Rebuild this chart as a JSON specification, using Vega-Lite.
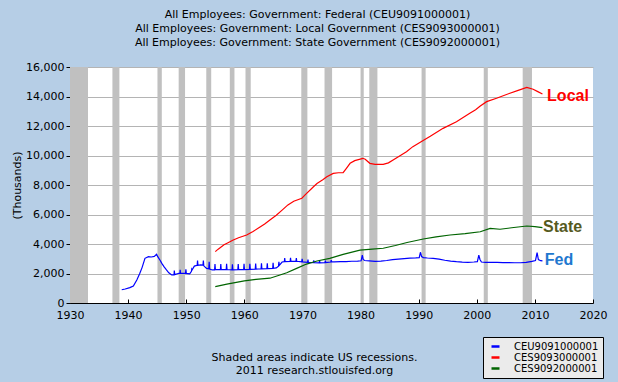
{
  "$schema": "https://vega.github.io/schema/vega-lite/v6.json",
  "width": 523,
  "height": 236,
  "autosize": {"type": "none"},
  "padding": {"left": 70, "top": 67, "right": 25, "bottom": 79},
  "background": "#B6CEE6",
  "title": {
    "text": ["All Employees: Government: Federal (CEU9091000001)", "All Employees: Government: Local Government (CES9093000001)", "All Employees: Government: State Government (CES9092000001)"],
    "font": "DejaVu Sans", "fontSize": 11, "fontWeight": "normal", "color": "#000000",
    "anchor": "middle", "offset": 13, "lineHeight": 14, "dx": -14
  },
  "config": {
    "view": {"stroke": null, "fill": "#FFFFFF"},
    "axis": {
      "zindex": 1, "domainColor": "#000000", "tickColor": "#000000",
      "labelFont": "DejaVu Sans", "labelFontSize": 11, "labelColor": "#000000",
      "labelFlush": false, "labelOverlap": false,
      "titleFont": "DejaVu Sans", "titleFontSize": 11, "titleFontWeight": "normal", "titleColor": "#000000"
    },
    "axisX": {"grid": false, "tickSize": -4, "labelPadding": 10, "titleX": 244, "titleY": 48, "titleBaseline": "top", "titleAlign": "center", "titleLineHeight": 13},
    "axisY": {"grid": true, "gridColor": "#B4B4B4", "tickSize": 4, "labelPadding": 2, "titleX": -53, "titleY": 118, "titleAngle": -90, "titleAlign": "center", "titleBaseline": "middle"},
    "legend": {
      "orient": "none", "legendX": 413, "legendY": 270, "fillColor": "#EBEBEB", "strokeColor": "#000000",
      "padding": 4, "symbolType": "stroke", "symbolStrokeWidth": 2.5, "symbolSize": 64,
      "labelFont": "DejaVu Sans", "labelFontSize": 10, "labelColor": "#000000", "rowPadding": 0,
      "labelOffset": 13, "symbolOffset": 3, "labelBaseline": "middle"
    }
  },
  "datasets": {
    "recessions": [
      {"x": 1930, "x2": 1933.1}, {"x": 1937.3, "x2": 1938.5}, {"x": 1945.05, "x2": 1945.8},
      {"x": 1948.7, "x2": 1949.8}, {"x": 1953.45, "x2": 1954.3}, {"x": 1957.5, "x2": 1958.3},
      {"x": 1960.2, "x2": 1961.1}, {"x": 1969.8, "x2": 1970.85}, {"x": 1973.8, "x2": 1975.1},
      {"x": 1980.0, "x2": 1980.55}, {"x": 1981.5, "x2": 1982.9}, {"x": 1990.5, "x2": 1991.2},
      {"x": 2001.2, "x2": 2001.9}, {"x": 2007.9, "x2": 2009.5}
    ],
    "series": [
      {"series": "CEU9091000001", "x": 1938.9, "y": 900}, {"series": "CEU9091000001", "x": 1939.5, "y": 950},
      {"series": "CEU9091000001", "x": 1940.3, "y": 1040}, {"series": "CEU9091000001", "x": 1940.9, "y": 1150},
      {"series": "CEU9091000001", "x": 1941.5, "y": 1560}, {"series": "CEU9091000001", "x": 1942.0, "y": 2000},
      {"series": "CEU9091000001", "x": 1942.4, "y": 2400}, {"series": "CEU9091000001", "x": 1942.9, "y": 3030},
      {"series": "CEU9091000001", "x": 1943.5, "y": 3140}, {"series": "CEU9091000001", "x": 1944.0, "y": 3120},
      {"series": "CEU9091000001", "x": 1944.5, "y": 3160}, {"series": "CEU9091000001", "x": 1944.9, "y": 3300},
      {"series": "CEU9091000001", "x": 1945.1, "y": 3140}, {"series": "CEU9091000001", "x": 1945.5, "y": 2900},
      {"series": "CEU9091000001", "x": 1945.8, "y": 2690}, {"series": "CEU9091000001", "x": 1946.2, "y": 2450},
      {"series": "CEU9091000001", "x": 1946.6, "y": 2240}, {"series": "CEU9091000001", "x": 1947.0, "y": 2050},
      {"series": "CEU9091000001", "x": 1947.5, "y": 1900}, {"series": "CEU9091000001", "x": 1947.9, "y": 1920},
      {"series": "CEU9091000001", "x": 1947.95, "y": 2200}, {"series": "CEU9091000001", "x": 1948.02, "y": 1920},
      {"series": "CEU9091000001", "x": 1948.6, "y": 2000}, {"series": "CEU9091000001", "x": 1948.92, "y": 2020},
      {"series": "CEU9091000001", "x": 1948.96, "y": 2250}, {"series": "CEU9091000001", "x": 1949.02, "y": 2010},
      {"series": "CEU9091000001", "x": 1949.5, "y": 2010}, {"series": "CEU9091000001", "x": 1949.88, "y": 2020},
      {"series": "CEU9091000001", "x": 1949.94, "y": 2290}, {"series": "CEU9091000001", "x": 1950.02, "y": 2010},
      {"series": "CEU9091000001", "x": 1950.6, "y": 1980}, {"series": "CEU9091000001", "x": 1950.9, "y": 2150},
      {"series": "CEU9091000001", "x": 1950.95, "y": 2300}, {"series": "CEU9091000001", "x": 1951.02, "y": 2250},
      {"series": "CEU9091000001", "x": 1951.4, "y": 2500}, {"series": "CEU9091000001", "x": 1951.88, "y": 2550},
      {"series": "CEU9091000001", "x": 1951.95, "y": 2870}, {"series": "CEU9091000001", "x": 1952.02, "y": 2560},
      {"series": "CEU9091000001", "x": 1952.5, "y": 2580}, {"series": "CEU9091000001", "x": 1952.88, "y": 2570},
      {"series": "CEU9091000001", "x": 1952.95, "y": 2870}, {"series": "CEU9091000001", "x": 1953.02, "y": 2520},
      {"series": "CEU9091000001", "x": 1953.5, "y": 2350}, {"series": "CEU9091000001", "x": 1953.88, "y": 2320},
      {"series": "CEU9091000001", "x": 1953.95, "y": 2800}, {"series": "CEU9091000001", "x": 1954.02, "y": 2300},
      {"series": "CEU9091000001", "x": 1954.5, "y": 2240}, {"series": "CEU9091000001", "x": 1954.88, "y": 2240},
      {"series": "CEU9091000001", "x": 1954.95, "y": 2640}, {"series": "CEU9091000001", "x": 1955.02, "y": 2260},
      {"series": "CEU9091000001", "x": 1955.88, "y": 2260}, {"series": "CEU9091000001", "x": 1955.95, "y": 2640},
      {"series": "CEU9091000001", "x": 1956.02, "y": 2260}, {"series": "CEU9091000001", "x": 1956.88, "y": 2270},
      {"series": "CEU9091000001", "x": 1956.95, "y": 2650}, {"series": "CEU9091000001", "x": 1957.02, "y": 2270},
      {"series": "CEU9091000001", "x": 1957.88, "y": 2250}, {"series": "CEU9091000001", "x": 1957.95, "y": 2620},
      {"series": "CEU9091000001", "x": 1958.02, "y": 2250}, {"series": "CEU9091000001", "x": 1958.88, "y": 2260},
      {"series": "CEU9091000001", "x": 1958.95, "y": 2640}, {"series": "CEU9091000001", "x": 1959.02, "y": 2260},
      {"series": "CEU9091000001", "x": 1959.88, "y": 2270}, {"series": "CEU9091000001", "x": 1959.95, "y": 2660},
      {"series": "CEU9091000001", "x": 1960.02, "y": 2270}, {"series": "CEU9091000001", "x": 1960.88, "y": 2280},
      {"series": "CEU9091000001", "x": 1960.95, "y": 2660}, {"series": "CEU9091000001", "x": 1961.02, "y": 2280},
      {"series": "CEU9091000001", "x": 1961.88, "y": 2300}, {"series": "CEU9091000001", "x": 1961.95, "y": 2680},
      {"series": "CEU9091000001", "x": 1962.02, "y": 2300}, {"series": "CEU9091000001", "x": 1962.88, "y": 2320},
      {"series": "CEU9091000001", "x": 1962.95, "y": 2700}, {"series": "CEU9091000001", "x": 1963.02, "y": 2320},
      {"series": "CEU9091000001", "x": 1963.88, "y": 2330}, {"series": "CEU9091000001", "x": 1963.95, "y": 2700},
      {"series": "CEU9091000001", "x": 1964.02, "y": 2330}, {"series": "CEU9091000001", "x": 1964.88, "y": 2350},
      {"series": "CEU9091000001", "x": 1964.95, "y": 2720}, {"series": "CEU9091000001", "x": 1965.02, "y": 2350},
      {"series": "CEU9091000001", "x": 1965.5, "y": 2380}, {"series": "CEU9091000001", "x": 1965.88, "y": 2500},
      {"series": "CEU9091000001", "x": 1965.95, "y": 2800}, {"series": "CEU9091000001", "x": 1966.02, "y": 2550},
      {"series": "CEU9091000001", "x": 1966.5, "y": 2780}, {"series": "CEU9091000001", "x": 1966.88, "y": 2800},
      {"series": "CEU9091000001", "x": 1966.95, "y": 3050}, {"series": "CEU9091000001", "x": 1967.02, "y": 2800},
      {"series": "CEU9091000001", "x": 1967.88, "y": 2820}, {"series": "CEU9091000001", "x": 1967.95, "y": 3060},
      {"series": "CEU9091000001", "x": 1968.02, "y": 2820}, {"series": "CEU9091000001", "x": 1968.88, "y": 2830},
      {"series": "CEU9091000001", "x": 1968.95, "y": 3050}, {"series": "CEU9091000001", "x": 1969.02, "y": 2830},
      {"series": "CEU9091000001", "x": 1969.88, "y": 2790}, {"series": "CEU9091000001", "x": 1969.95, "y": 3000},
      {"series": "CEU9091000001", "x": 1970.02, "y": 2790}, {"series": "CEU9091000001", "x": 1970.88, "y": 2760},
      {"series": "CEU9091000001", "x": 1970.95, "y": 2950}, {"series": "CEU9091000001", "x": 1971.02, "y": 2750},
      {"series": "CEU9091000001", "x": 1971.88, "y": 2730}, {"series": "CEU9091000001", "x": 1971.95, "y": 2900},
      {"series": "CEU9091000001", "x": 1972.02, "y": 2730}, {"series": "CEU9091000001", "x": 1972.88, "y": 2720},
      {"series": "CEU9091000001", "x": 1972.95, "y": 2880}, {"series": "CEU9091000001", "x": 1973.02, "y": 2720},
      {"series": "CEU9091000001", "x": 1973.88, "y": 2740}, {"series": "CEU9091000001", "x": 1973.95, "y": 2880},
      {"series": "CEU9091000001", "x": 1974.02, "y": 2740}, {"series": "CEU9091000001", "x": 1974.88, "y": 2780},
      {"series": "CEU9091000001", "x": 1974.95, "y": 2900}, {"series": "CEU9091000001", "x": 1975.02, "y": 2790},
      {"series": "CEU9091000001", "x": 1975.5, "y": 2790}, {"series": "CEU9091000001", "x": 1976.5, "y": 2800},
      {"series": "CEU9091000001", "x": 1977.5, "y": 2800}, {"series": "CEU9091000001", "x": 1978.5, "y": 2830},
      {"series": "CEU9091000001", "x": 1979.5, "y": 2840}, {"series": "CEU9091000001", "x": 1980.1, "y": 2860},
      {"series": "CEU9091000001", "x": 1980.3, "y": 3250}, {"series": "CEU9091000001", "x": 1980.45, "y": 2950},
      {"series": "CEU9091000001", "x": 1980.7, "y": 2880}, {"series": "CEU9091000001", "x": 1981.5, "y": 2850},
      {"series": "CEU9091000001", "x": 1982.5, "y": 2820}, {"series": "CEU9091000001", "x": 1983.5, "y": 2840},
      {"series": "CEU9091000001", "x": 1984.5, "y": 2880}, {"series": "CEU9091000001", "x": 1985.5, "y": 2940},
      {"series": "CEU9091000001", "x": 1986.5, "y": 2980}, {"series": "CEU9091000001", "x": 1987.5, "y": 3010},
      {"series": "CEU9091000001", "x": 1988.5, "y": 3040}, {"series": "CEU9091000001", "x": 1989.5, "y": 3060},
      {"series": "CEU9091000001", "x": 1990.1, "y": 3080}, {"series": "CEU9091000001", "x": 1990.3, "y": 3440},
      {"series": "CEU9091000001", "x": 1990.5, "y": 3150}, {"series": "CEU9091000001", "x": 1990.8, "y": 3080},
      {"series": "CEU9091000001", "x": 1991.5, "y": 3050}, {"series": "CEU9091000001", "x": 1992.5, "y": 3030},
      {"series": "CEU9091000001", "x": 1993.5, "y": 2980}, {"series": "CEU9091000001", "x": 1994.5, "y": 2900},
      {"series": "CEU9091000001", "x": 1995.5, "y": 2840}, {"series": "CEU9091000001", "x": 1996.5, "y": 2800},
      {"series": "CEU9091000001", "x": 1997.5, "y": 2770}, {"series": "CEU9091000001", "x": 1998.5, "y": 2760},
      {"series": "CEU9091000001", "x": 1999.5, "y": 2780}, {"series": "CEU9091000001", "x": 2000.1, "y": 2800},
      {"series": "CEU9091000001", "x": 2000.35, "y": 3250}, {"series": "CEU9091000001", "x": 2000.55, "y": 2950},
      {"series": "CEU9091000001", "x": 2000.8, "y": 2780}, {"series": "CEU9091000001", "x": 2001.5, "y": 2760},
      {"series": "CEU9091000001", "x": 2002.5, "y": 2750}, {"series": "CEU9091000001", "x": 2003.5, "y": 2750},
      {"series": "CEU9091000001", "x": 2004.5, "y": 2740}, {"series": "CEU9091000001", "x": 2005.5, "y": 2740},
      {"series": "CEU9091000001", "x": 2006.5, "y": 2730}, {"series": "CEU9091000001", "x": 2007.5, "y": 2730},
      {"series": "CEU9091000001", "x": 2008.5, "y": 2760}, {"series": "CEU9091000001", "x": 2009.5, "y": 2820},
      {"series": "CEU9091000001", "x": 2010.1, "y": 2880}, {"series": "CEU9091000001", "x": 2010.38, "y": 3413},
      {"series": "CEU9091000001", "x": 2010.6, "y": 2950}, {"series": "CEU9091000001", "x": 2011.0, "y": 2870},
      {"series": "CEU9091000001", "x": 2011.3, "y": 2850},

      {"series": "CES9093000001", "x": 1955.0, "y": 3480}, {"series": "CES9093000001", "x": 1955.5, "y": 3650},
      {"series": "CES9093000001", "x": 1956.5, "y": 3950}, {"series": "CES9093000001", "x": 1957.2, "y": 4090},
      {"series": "CES9093000001", "x": 1958.0, "y": 4250}, {"series": "CES9093000001", "x": 1959.0, "y": 4420},
      {"series": "CES9093000001", "x": 1960.4, "y": 4610}, {"series": "CES9093000001", "x": 1961.5, "y": 4850},
      {"series": "CES9093000001", "x": 1962.5, "y": 5100}, {"series": "CES9093000001", "x": 1963.5, "y": 5350},
      {"series": "CES9093000001", "x": 1964.4, "y": 5630}, {"series": "CES9093000001", "x": 1965.5, "y": 5950},
      {"series": "CES9093000001", "x": 1966.5, "y": 6300}, {"series": "CES9093000001", "x": 1967.5, "y": 6650},
      {"series": "CES9093000001", "x": 1968.5, "y": 6900}, {"series": "CES9093000001", "x": 1969.9, "y": 7100},
      {"series": "CES9093000001", "x": 1970.5, "y": 7350}, {"series": "CES9093000001", "x": 1971.9, "y": 7880},
      {"series": "CES9093000001", "x": 1972.5, "y": 8100}, {"series": "CES9093000001", "x": 1973.5, "y": 8350},
      {"series": "CES9093000001", "x": 1974.2, "y": 8560}, {"series": "CES9093000001", "x": 1975.3, "y": 8790},
      {"series": "CES9093000001", "x": 1976.2, "y": 8830}, {"series": "CES9093000001", "x": 1977.0, "y": 8840},
      {"series": "CES9093000001", "x": 1977.5, "y": 9100}, {"series": "CES9093000001", "x": 1978.2, "y": 9470},
      {"series": "CES9093000001", "x": 1979.0, "y": 9650}, {"series": "CES9093000001", "x": 1980.4, "y": 9810},
      {"series": "CES9093000001", "x": 1980.8, "y": 9750}, {"series": "CES9093000001", "x": 1981.6, "y": 9470},
      {"series": "CES9093000001", "x": 1982.5, "y": 9400}, {"series": "CES9093000001", "x": 1983.9, "y": 9400},
      {"series": "CES9093000001", "x": 1984.8, "y": 9500}, {"series": "CES9093000001", "x": 1985.6, "y": 9700},
      {"series": "CES9093000001", "x": 1987.9, "y": 10260}, {"series": "CES9093000001", "x": 1989.0, "y": 10600},
      {"series": "CES9093000001", "x": 1990.7, "y": 11000}, {"series": "CES9093000001", "x": 1992.0, "y": 11300},
      {"series": "CES9093000001", "x": 1994.2, "y": 11840}, {"series": "CES9093000001", "x": 1996.5, "y": 12290},
      {"series": "CES9093000001", "x": 1998.8, "y": 12860}, {"series": "CES9093000001", "x": 1999.8, "y": 13100},
      {"series": "CES9093000001", "x": 2000.6, "y": 13350}, {"series": "CES9093000001", "x": 2001.7, "y": 13650},
      {"series": "CES9093000001", "x": 2003.4, "y": 13880}, {"series": "CES9093000001", "x": 2005.7, "y": 14220},
      {"series": "CES9093000001", "x": 2007.0, "y": 14400}, {"series": "CES9093000001", "x": 2008.6, "y": 14620},
      {"series": "CES9093000001", "x": 2009.7, "y": 14490}, {"series": "CES9093000001", "x": 2010.5, "y": 14330},
      {"series": "CES9093000001", "x": 2011.3, "y": 14170},

      {"series": "CES9092000001", "x": 1955.0, "y": 1110}, {"series": "CES9092000001", "x": 1957.0, "y": 1280},
      {"series": "CES9092000001", "x": 1960.0, "y": 1500}, {"series": "CES9092000001", "x": 1962.0, "y": 1600},
      {"series": "CES9092000001", "x": 1964.4, "y": 1680}, {"series": "CES9092000001", "x": 1966.0, "y": 1880},
      {"series": "CES9092000001", "x": 1967.3, "y": 2050}, {"series": "CES9092000001", "x": 1969.0, "y": 2350},
      {"series": "CES9092000001", "x": 1970.7, "y": 2640}, {"series": "CES9092000001", "x": 1972.5, "y": 2850},
      {"series": "CES9092000001", "x": 1974.7, "y": 3030}, {"series": "CES9092000001", "x": 1977.0, "y": 3300},
      {"series": "CES9092000001", "x": 1979.9, "y": 3590}, {"series": "CES9092000001", "x": 1982.0, "y": 3650},
      {"series": "CES9092000001", "x": 1983.9, "y": 3710}, {"series": "CES9092000001", "x": 1986.0, "y": 3900},
      {"series": "CES9092000001", "x": 1988.0, "y": 4100}, {"series": "CES9092000001", "x": 1990.8, "y": 4340},
      {"series": "CES9092000001", "x": 1993.0, "y": 4480}, {"series": "CES9092000001", "x": 1995.4, "y": 4610},
      {"series": "CES9092000001", "x": 1998.0, "y": 4700}, {"series": "CES9092000001", "x": 2000.6, "y": 4830},
      {"series": "CES9092000001", "x": 2002.3, "y": 5060}, {"series": "CES9092000001", "x": 2004.0, "y": 5000},
      {"series": "CES9092000001", "x": 2006.0, "y": 5100}, {"series": "CES9092000001", "x": 2008.6, "y": 5220},
      {"series": "CES9092000001", "x": 2010.0, "y": 5180}, {"series": "CES9092000001", "x": 2011.3, "y": 5105}
    ],
    "labels": [
      {"label": "Local", "x": 2012.1, "y": 14034},
      {"label": "State", "x": 2011.4, "y": 5153},
      {"label": "Fed", "x": 2011.7, "y": 2915}
    ]
  },
  "layer": [
    {
      "data": {"name": "recessions"},
      "mark": {"type": "rect", "color": "#C0C0C0", "clip": true},
      "encoding": {
        "x": {
          "field": "x", "type": "quantitative",
          "scale": {"domain": [1930, 2020], "nice": false, "zero": false},
          "axis": {
            "title": ["Shaded areas indicate US recessions.", "2011 research.stlouisfed.org"],
            "values": [1930, 1940, 1950, 1960, 1970, 1980, 1990, 2000, 2010, 2020], "format": "d"
          }
        },
        "x2": {"field": "x2"}
      }
    },
    {
      "data": {"name": "series"},
      "mark": {"type": "line", "strokeWidth": 1.2},
      "encoding": {
        "x": {
          "field": "x", "type": "quantitative",
          "scale": {"domain": [1930, 2020], "nice": false, "zero": false},
          "axis": {
            "title": ["Shaded areas indicate US recessions.", "2011 research.stlouisfed.org"],
            "values": [1930, 1940, 1950, 1960, 1970, 1980, 1990, 2000, 2010, 2020], "format": "d"
          }
        },
        "y": {
          "field": "y", "type": "quantitative",
          "scale": {"domain": [0, 16000], "nice": false},
          "axis": {"title": "(Thousands)", "values": [0, 2000, 4000, 6000, 8000, 10000, 12000, 14000, 16000], "format": ",d"}
        },
        "color": {
          "field": "series", "type": "nominal",
          "scale": {"domain": ["CEU9091000001", "CES9093000001", "CES9092000001"], "range": ["#0000FF", "#FF0000", "#006400"]},
          "legend": {"title": null}
        },
        "order": {"field": "x", "type": "quantitative"}
      }
    },
    {
      "data": {"name": "labels"},
      "mark": {"type": "text", "align": "left", "baseline": "middle", "font": "Liberation Sans", "fontWeight": "bold", "fontSize": 16},
      "encoding": {
        "x": {
          "field": "x", "type": "quantitative",
          "scale": {"domain": [1930, 2020], "nice": false, "zero": false},
          "axis": {
            "title": ["Shaded areas indicate US recessions.", "2011 research.stlouisfed.org"],
            "values": [1930, 1940, 1950, 1960, 1970, 1980, 1990, 2000, 2010, 2020], "format": "d"
          }
        },
        "y": {
          "field": "y", "type": "quantitative",
          "scale": {"domain": [0, 16000], "nice": false},
          "axis": {"title": "(Thousands)", "values": [0, 2000, 4000, 6000, 8000, 10000, 12000, 14000, 16000], "format": ",d"}
        },
        "text": {"field": "label"},
        "color": {
          "field": "label", "type": "nominal",
          "scale": {"domain": ["Local", "State", "Fed"], "range": ["#FF0000", "#565A1E", "#1F78CF"]},
          "legend": null
        }
      }
    }
  ],
  "resolve": {"scale": {"color": "independent"}}
}
